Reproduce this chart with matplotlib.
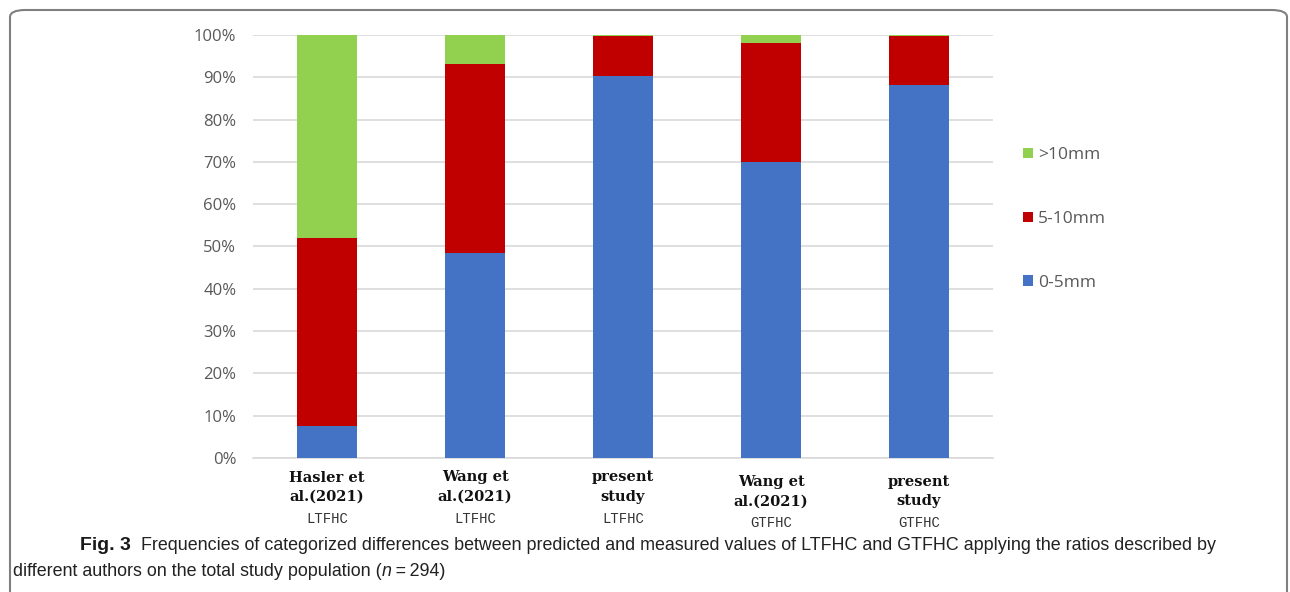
import matplotlib
matplotlib.use("Agg")
import matplotlib.pyplot as plt
from matplotlib.patches import FancyBboxPatch
from matplotlib.ticker import PercentFormatter
import numpy as np

# ---- data ----
cat_names = ["Hasler et\nal.(2021)", "Wang et\nal.(2021)", "present\nstudy", "Wang et\nal.(2021)", "present\nstudy"]
cat_methods = ["LTFHC", "LTFHC", "LTFHC", "GTFHC", "GTFHC"]
series_labels = ["0-5mm", "5-10mm", ">10mm"]
val_0_5 = [7.5, 48.5, 90.2, 70.0, 88.2]
val_5_10 = [44.5, 44.6, 9.5, 28.2, 11.6]
val_gt10 = [48.0, 6.9, 0.3, 1.8, 0.2]
colors = ["#4472C4", "#C00000", "#92D050"]
yticks = [0, 10, 20, 30, 40, 50, 60, 70, 80, 90, 100]
caption_bold = "Fig. 3"
caption_line1 = "Frequencies of categorized differences between predicted and measured values of LTFHC and GTFHC applying the ratios described by"
caption_line2a = "different authors on the total study population ("
caption_line2b = "n"
caption_line2c = "\u2009=\u2009294)"

W, H = 1290, 592
fig = plt.figure(figsize=(W / 100, H / 100), dpi=100)
ax = fig.add_axes([253 / W, 1 - 458 / H, (993 - 253) / W, (458 - 35) / H])

x = np.arange(len(cat_names))
series = [val_0_5, val_5_10, val_gt10]
bottom = np.zeros(len(x))
handles = []
for vals, col, lab in zip(series, colors, series_labels):
    b = ax.bar(x, vals, 0.4, bottom=bottom, color=col, label=lab, zorder=3)
    handles.append(b)
    bottom += np.array(vals)

ax.set_xlim(-0.5, len(x) - 0.5)
ax.set_ylim(0, 100)
ax.set_yticks(yticks)
ax.yaxis.set_major_formatter(PercentFormatter(decimals=0))
ax.grid(axis="y", color="#D9D9D9", linewidth=1.2, zorder=0)
for s in ["top", "right", "left"]:
    ax.spines[s].set_visible(False)
ax.spines["bottom"].set_color("#D9D9D9")
ax.spines["bottom"].set_linewidth(1.2)
ax.tick_params(axis="y", length=0, pad=12, labelsize=12, labelcolor="#595959")
ax.tick_params(axis="x", length=0, labelbottom=False)
for lab in ax.get_yticklabels():
    lab.set_fontfamily("Open Sans")

# x category labels
trans = ax.get_xaxis_transform()
for i, (nm, meth) in enumerate(zip(cat_names, cat_methods)):
    off = 0 if i < 3 else -3
    ax.annotate(nm, xy=(x[i], 0), xycoords=trans, xytext=(0, -9 + off), textcoords="offset points",
                ha="center", va="top", fontsize=10.5, fontweight="bold", family="DejaVu Serif",
                linespacing=1.5, color="#111111")
    ax.annotate(meth, xy=(x[i], 0), xycoords=trans, xytext=(0, -39 + off), textcoords="offset points",
                ha="center", va="top", fontsize=10, family="Liberation Mono", color="#333333")

# legend
leg = ax.legend(handles[::-1], series_labels[::-1], loc="center left",
                bbox_to_anchor=(1.02, 0.565), frameon=False, fontsize=12.5,
                labelspacing=2.75, handlelength=0.55, handleheight=0.55, handletextpad=0.3)
for t in leg.get_texts():
    t.set_color("#595959")
    t.set_fontfamily("Open Sans")

# caption
cap_font = ["Liberation Sans", "DejaVu Sans"]
cap_size = 12.9
t0 = fig.text(80 / W, 1 - 545 / H, caption_bold, fontsize=14, fontweight="bold",
              family=cap_font, va="center", ha="left", color="#1a1a1a")
ax.annotate("  " + caption_line1, xy=(1, 0), xycoords=t0, va="bottom", ha="left",
            fontsize=cap_size, family=cap_font, color="#222222")
t2 = fig.text(13 / W, 1 - 572 / H, caption_line2a, fontsize=cap_size, family=cap_font,
              va="center", ha="left", color="#222222")
t3 = ax.annotate(caption_line2b, xy=(1, 0), xycoords=t2, va="bottom", ha="left",
                 fontsize=cap_size, family=cap_font, style="italic", color="#222222")
ax.annotate(caption_line2c, xy=(1, 0), xycoords=t3, va="bottom", ha="left",
            fontsize=cap_size, family=cap_font, color="#222222")

# border box
box = FancyBboxPatch((10 / W, -0.05), (1287 - 10) / W, (H - 10) / H + 0.05,
                     boxstyle="round,pad=0,rounding_size=0.012", transform=fig.transFigure,
                     fill=False, edgecolor="#7F7F7F", linewidth=1.5, clip_on=False)
fig.patches.append(box)

fig.savefig("out.png", dpi=100)
